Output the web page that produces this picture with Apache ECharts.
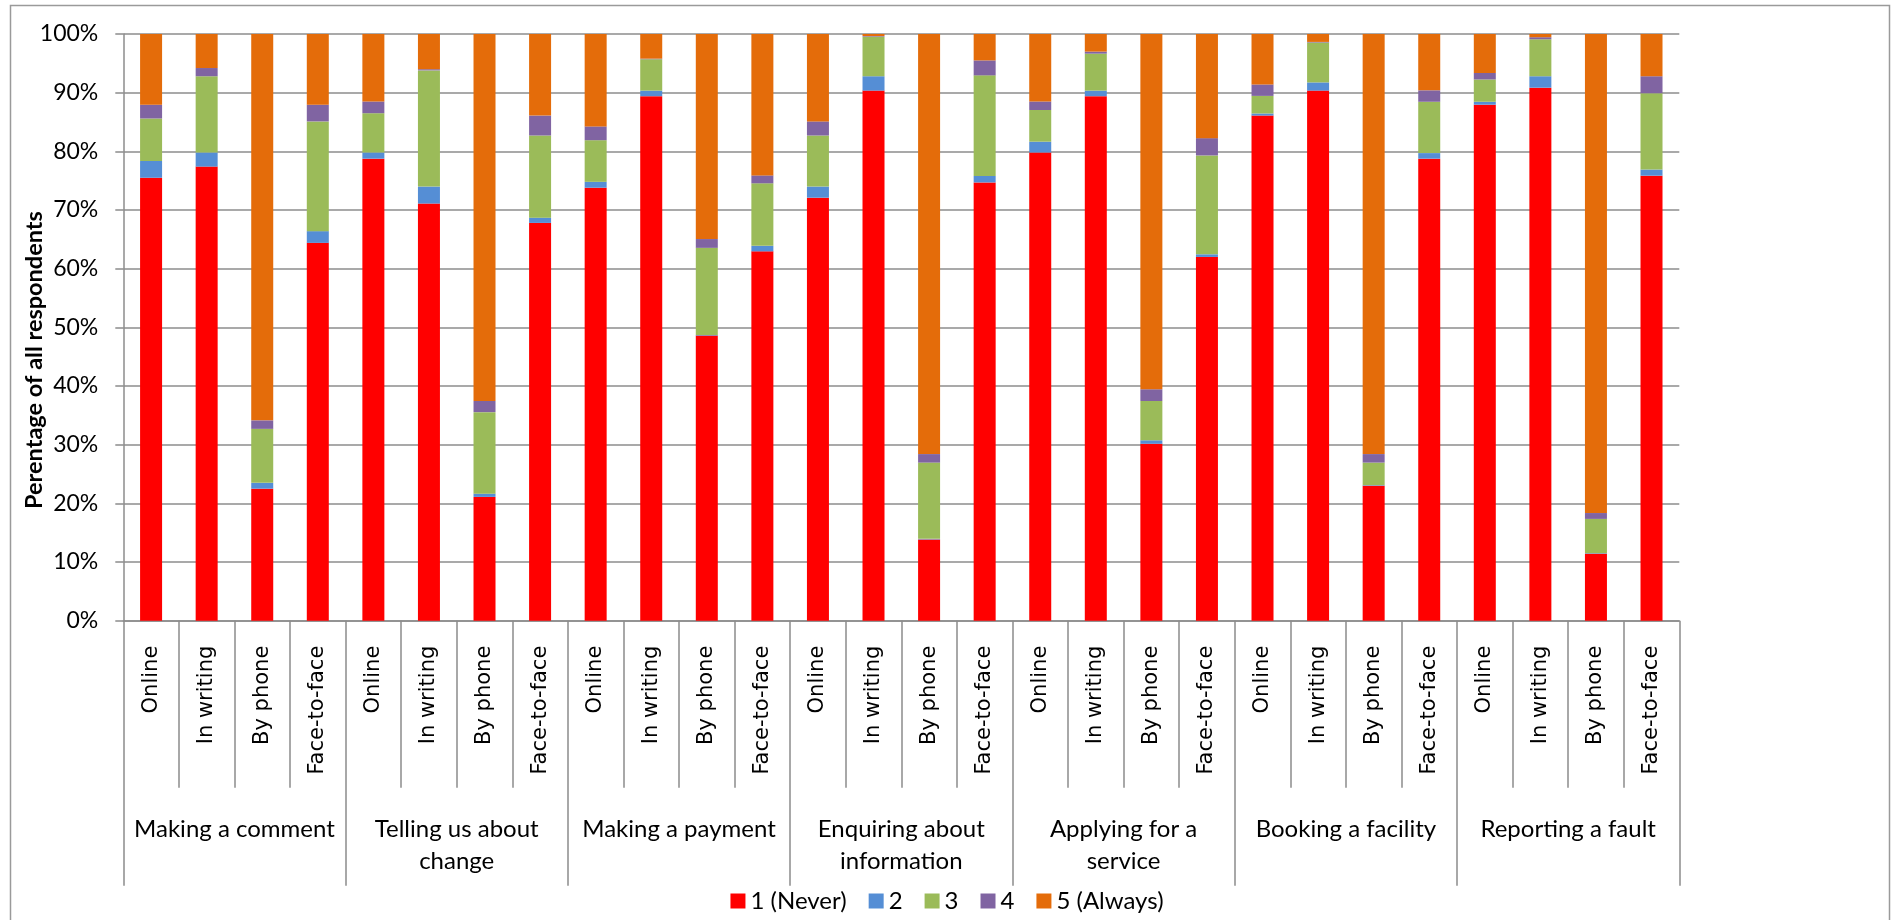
<!DOCTYPE html>
<html>
<head>
<meta charset="utf-8">
<title>Contact channels by activity</title>
<script src="https://cdn.jsdelivr.net/npm/echarts@6/dist/echarts.min.js"></script>
<style>
  html, body { margin: 0; padding: 0; background: #fff; }
  #chart { width: 1894px; height: 920px; }
</style>
</head>
<body>
<div id="chart"></div>
<script>
// Activities (outer category level) and contact channels (inner level)
const activities = [
  'Making a comment',
  'Telling us about\nchange',
  'Making a payment',
  'Enquiring about\ninformation',
  'Applying for a\nservice',
  'Booking a facility',
  'Reporting a fault'
];
const channels = ['Online', 'In writing', 'By phone', 'Face-to-face'];

// Response levels
const seriesNames = ['1 (Never)', '2', '3', '4', '5 (Always)'];
const seriesColors = ['#FF0000', '#558ED5', '#9BBB59', '#8064A2', '#E46C0A'];

// Percentage of respondents, one value per activity/channel bar (28 bars)
const never = [75.5, 77.4, 22.5, 64.4, 78.75, 71.1, 21.1, 67.8, 73.8, 89.4, 48.6, 62.95, 72.1, 90.35,
               13.85, 74.7, 79.8, 89.4, 30.15, 62.0, 86.1, 90.35, 23.0, 78.75, 87.95, 90.85, 11.4, 75.85];
const level2 = [2.85, 2.4, 1.0, 2.0, 1.05, 2.9, 0.55, 0.9, 1.0, 0.95, 0.1, 0.95, 1.9, 2.45,
                0.1, 1.1, 1.85, 0.95, 0.6, 0.45, 0.35, 1.4, 0.1, 0.95, 0.5, 1.95, 0.1, 1.05];
const level3 = [7.25, 13.0, 9.2, 18.7, 6.7, 19.8, 13.9, 14.0, 7.1, 5.35, 14.85, 10.65, 8.7, 6.75,
                13.0, 17.15, 5.4, 6.3, 6.7, 16.85, 3.0, 6.8, 3.85, 8.75, 3.8, 6.3, 5.85, 13.0];
const level4 = [2.35, 1.4, 1.45, 2.85, 2.0, 0.2, 1.9, 3.4, 2.35, 0.1, 1.5, 1.35, 2.4, 0.1,
                1.45, 2.55, 1.45, 0.35, 2.0, 2.95, 1.95, 0.1, 1.45, 1.95, 1.1, 0.35, 1.0, 2.9];
const always = [12.05, 5.8, 65.85, 12.05, 11.5, 6.0, 62.55, 13.9, 15.75, 4.2, 34.95, 24.1, 14.9, 0.35,
                71.6, 4.5, 11.5, 3.0, 60.55, 17.75, 8.6, 1.35, 71.6, 9.6, 6.65, 0.55, 81.65, 7.2];

const yTicks = [0, 10, 20, 30, 40, 50, 60, 70, 80, 90, 100];
const yTitle = 'Perentage of all respondents';

// Inner-level labels: the four channels repeated under each activity
const barLabels = [];
activities.forEach(() => channels.forEach(c => barLabels.push(c)));

const seriesValues = [never, level2, level3, level4, always];
const axisGrey = '#8c8c8c';

const chart = echarts.init(document.getElementById('chart'), null, { renderer: 'canvas' });

chart.setOption({
  backgroundColor: '#ffffff',
  animation: false,
  graphic: [
    {
      // outer chart frame
      type: 'rect',
      shape: { x: 10.5, y: 5.5, width: 1879, height: 940 },
      style: { fill: 'none', stroke: '#9a9a9a', lineWidth: 1.5 },
      silent: true,
      z: -1
    },
    {
      // vertical axis title, reading bottom to top
      type: 'text',
      x: 34,
      y: 360,
      rotation: Math.PI / 2,
      style: {
        text: yTitle,
        fontFamily: 'Lato',
        fontSize: 23.5,
        fontWeight: 'bold',
        fill: '#000',
        align: 'center',
        verticalAlign: 'middle'
      },
      silent: true
    }
  ],
  grid: { left: 123.3, right: 214.7, top: 34, bottom: 299.3, containLabel: false },
  legend: {
    data: seriesNames,
    top: 884,
    left: 'center',
    itemWidth: 15,
    itemHeight: 15,
    itemGap: 22,
    icon: 'rect',
    textStyle: { fontFamily: 'Lato', fontSize: 24, color: '#000' }
  },
  xAxis: [
    {
      type: 'category',
      position: 'bottom',
      data: barLabels,
      boundaryGap: true,
      axisLine: { show: true, lineStyle: { color: axisGrey, width: 1.5 } },
      axisTick: { show: true, interval: 0, length: 167, lineStyle: { color: axisGrey, width: 1.5 } },
      axisLabel: {
        interval: 0,
        rotate: 90,
        margin: 25,
        fontFamily: 'DejaVu Sans',
        fontSize: 21,
        color: '#000'
      },
      splitLine: { show: false }
    },
    {
      type: 'category',
      position: 'bottom',
      data: activities,
      boundaryGap: true,
      axisLine: { show: false },
      axisTick: { show: true, interval: 0, length: 265, lineStyle: { color: axisGrey, width: 1.5 } },
      axisLabel: {
        interval: 0,
        margin: 193,
        fontFamily: 'Lato',
        fontSize: 24,
        lineHeight: 32,
        color: '#000',
        align: 'center'
      },
      splitLine: { show: false }
    }
  ],
  yAxis: {
    type: 'value',
    min: yTicks[0],
    max: yTicks[yTicks.length - 1],
    interval: yTicks[1] - yTicks[0],
    axisLine: { show: true, lineStyle: { color: axisGrey, width: 1.5 } },
    axisTick: { show: true, length: 8, lineStyle: { color: axisGrey, width: 1.5 } },
    axisLabel: {
      margin: 25,
      formatter: '{value}%',
      fontFamily: 'Lato',
      fontSize: 23,
      color: '#000'
    },
    splitLine: { show: true, lineStyle: { color: axisGrey, width: 1.5 } }
  },
  series: seriesNames.map((name, i) => ({
    name: name,
    type: 'bar',
    stack: 'total',
    xAxisIndex: 0,
    barWidth: 22,
    itemStyle: { color: seriesColors[i] },
    data: seriesValues[i]
  }))
});
</script>
</body>
</html>
